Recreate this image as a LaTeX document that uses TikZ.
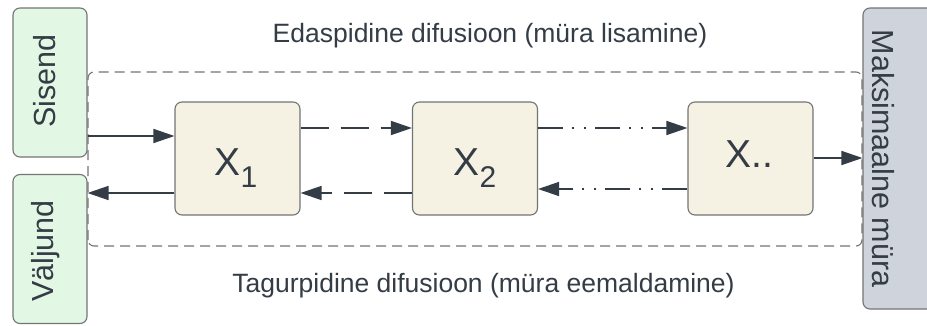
\documentclass[tikz,border=0pt]{standalone}
\usepackage{fontspec}
\setmainfont{Liberation Sans}
\usetikzlibrary{arrows.meta}

\definecolor{inkcol}{HTML}{343C46}
\definecolor{edgecol}{HTML}{747474}
\definecolor{greenfill}{HTML}{E3F8E4}
\definecolor{stepfill}{HTML}{F5F2E3}
\definecolor{noisefill}{HTML}{CED3DC}

\tikzset{
  iobox/.style={draw=edgecol, line width=1.1pt, fill=greenfill, rounded corners=7pt,
    minimum width=74pt, minimum height=149pt, inner sep=0pt},
  noisebox/.style={draw=edgecol, line width=1.1pt, fill=noisefill, rounded corners=7pt,
    minimum width=80pt, minimum height=301pt, inner sep=0pt},
  stepbox/.style={draw=edgecol, line width=1.1pt, fill=stepfill, rounded corners=7pt,
    minimum width=125pt, minimum height=113pt, inner sep=0pt},
  frame/.style={draw=edgecol, line width=1.1pt, rounded corners=6pt,
    dash pattern=on 10pt off 6pt},
  arr/.style={draw=inkcol, line width=1.5pt, -{Triangle[length=21pt,width=14pt]}},
  longdash/.style={dash pattern=on 28pt off 12pt},
  dashdots/.style={dash pattern=on 25pt off 9pt on 2pt off 10pt on 2pt off 9pt},
  title/.style={text=inkcol, font=\fontsize{26.5pt}{30pt}\selectfont, anchor=base, inner sep=0pt},
  sidelabel/.style={text=inkcol, font=\fontsize{30.5pt}{34pt}\selectfont, anchor=base, inner sep=0pt},
  steplabel/.style={text=inkcol, font=\fontsize{39pt}{42pt}\selectfont, anchor=base, inner sep=0pt},
}
\newcommand{\stepidx}[1]{\raisebox{-12pt}{\fontsize{30pt}{32pt}\selectfont #1}}

\begin{document}
\begin{tikzpicture}[x=1pt, y=1pt]
  \useasboundingbox (0,0) rectangle (927,325);
  \clip (0,0) rectangle (927,325);
  \fill[white] (0,0) rectangle (927,325);

  % dashed frame around the diffusion chain
  \draw[frame] (88,79) rectangle (862,253);

  % input / output and the noise end
  \node[iobox] (sisend) at (50,242.5) {};
  \node[iobox] (valjund) at (50,76) {};
  \node[noisebox] (noise) at (903,166.5) {};

  % diffusion steps
  \node[stepbox] (x1) at (237.5,166.5) {};
  \node[stepbox] (x2) at (475,166.5) {};
  \node[stepbox] (xn) at (750.5,166.5) {};

  % labels
  \node[sidelabel, rotate=90] (lsisend) at (55,244) {Sisend};
  \node[sidelabel, rotate=90] (lvaljund) at (53,74) {Väljund};
  \node[sidelabel, rotate=-90] (lnoise) at (872,166.5) {Maksimaalne müra};
  \node[steplabel] (lx1) at (236,150) {X\stepidx{1}};
  \node[steplabel] (lx2) at (475,150) {X\stepidx{2}};
  \node[steplabel] (lxn) at (749,158) {X..};
  \node[title] (forward) at (490,283) {Edaspidine difusioon (müra lisamine)};
  \node[title] (reverse) at (483.5,33) {Tagurpidine difusioon (müra eemaldamine)};

  % heights of the connector rows
  \coordinate (rowin) at (0,189);
  \coordinate (rowtop) at (0,197);
  \coordinate (rowbot) at (0,132);
  \coordinate (rowbotb) at (0,136);
  \coordinate (rowmid) at (0,167);

  % connectors
  \draw[arr] (sisend.east |- rowin) -- (x1.west |- rowin);
  \draw[arr] (x1.west |- rowbot) -- (valjund.east |- rowbot);
  \draw[arr, longdash] (x1.east |- rowtop) -- (x2.west |- rowtop);
  \draw[arr, longdash] (x2.west |- rowbot) -- (x1.east |- rowbot);
  \draw[arr, dashdots] (x2.east |- rowtop) -- (xn.west |- rowtop);
  \draw[arr, dashdots] (xn.west |- rowbotb) -- (x2.east |- rowbotb);
  \draw[arr] (xn.east |- rowmid) -- (noise.west |- rowmid);
\end{tikzpicture}
\end{document}
